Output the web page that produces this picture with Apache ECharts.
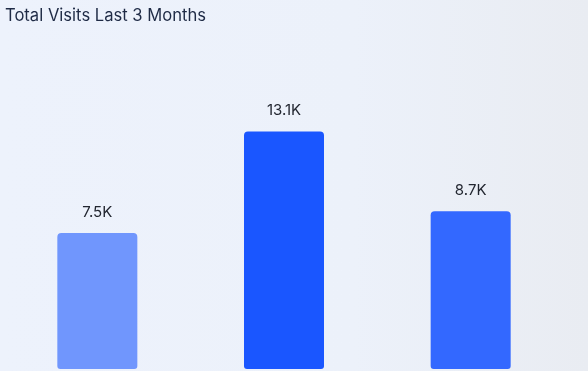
<!DOCTYPE html>
<html>
<head>
<meta charset="utf-8">
<script src="https://cdn.jsdelivr.net/npm/echarts@6/dist/echarts.min.js"></script>
<style>
html,body{margin:0;padding:0;}
#c{width:588px;height:371px;background:linear-gradient(90deg,#EDF2FC 0%,#ECF1FA 60%,#E9ECF2 100%);}
</style>
</head>
<body>
<div id="c"></div>
<script>
const categories = ['Month 1', 'Month 2', 'Month 3'];
const visits = [7500, 13100, 8700];
const barColors = ['#7096FD', '#1A56FF', '#3368FF'];

const chart = echarts.init(document.getElementById('c'), null, {renderer: 'canvas'});
chart.setOption({
  backgroundColor: 'transparent',
  animation: false,
  title: {
    text: 'Total Visits Last 3 Months',
    left: 0, top: 2,
    textStyle: {fontFamily: 'Inter', fontSize: 16.6, fontWeight: 'normal', color: '#1E2A45'}
  },
  grid: {left: 4, right: 24, top: 97, bottom: 2, containLabel: false},
  xAxis: {
    type: 'category', data: categories,
    axisLine: {show: false}, axisTick: {show: false}, axisLabel: {show: false}
  },
  yAxis: {
    type: 'value', min: 0, max: 15000,
    axisLine: {show: false}, axisTick: {show: false}, axisLabel: {show: false},
    splitLine: {show: false}
  },
  series: [{
    type: 'bar',
    barWidth: 80,
    data: visits.map((v, i) => ({value: v, itemStyle: {color: barColors[i]}})),
    itemStyle: {borderRadius: [4, 4, 3, 3]},
    label: {
      show: true, position: 'top', distance: 13,
      fontFamily: 'Inter', fontSize: 15, color: '#222630',
      formatter: p => (p.value / 1000).toFixed(1) + 'K'
    }
  }]
});
</script>
</body>
</html>
